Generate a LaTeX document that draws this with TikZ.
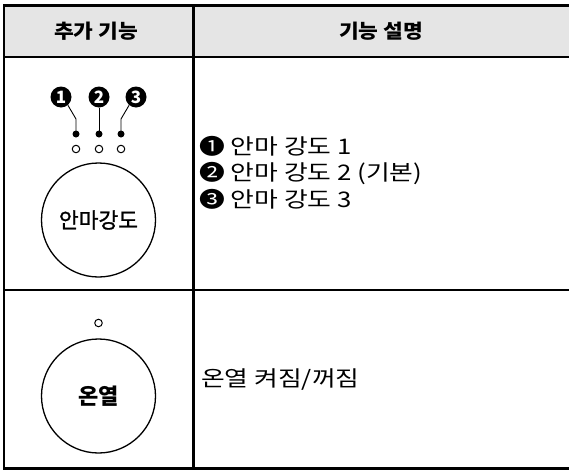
\documentclass[tikz,border=0pt]{standalone}
\usepackage{fontspec}
\setmainfont{Noto Sans CJK KR}
\newfontfamily\widefont[FakeStretch=1.2]{Noto Sans CJK KR}
\newfontfamily\headfont[FakeStretch=1.1]{Noto Sans CJK KR}
\newfontfamily\medfont[FakeBold=1.2]{Noto Sans CJK KR}
\begin{document}
\begin{tikzpicture}[x=1pt,y=-1pt,
  tableline/.style={line width=2.2pt},
  header/.style={font=\headfont\fontsize{19.5}{24}\selectfont\bfseries},
  bodytext/.style={font=\widefont\fontsize{21.5}{26.5}\selectfont, anchor=west, align=left, inner sep=0pt},
  knob/.style={circle, draw, line width=1.3pt, minimum size=114pt, inner sep=0pt},
  numdot/.style={circle, fill=black, minimum size=21pt, inner sep=0pt, text=white, font=\fontsize{17}{17}\selectfont\bfseries},
  leddot/.style={circle, fill=black, minimum size=7pt, inner sep=0pt},
  ledring/.style={circle, draw, line width=1pt, minimum size=7.5pt, inner sep=0pt},
  wire/.style={line width=0.9pt}]
\useasboundingbox (0,0) rectangle (569,471);
% header background
\fill[gray!20] (4,5.5) rectangle (570,57);
% table lines
\draw[tableline] (4,5.5) rectangle (570,468.5);
\draw[tableline] (4,57) -- (570,57);
\draw[tableline] (4,290) -- (570,290);
\draw[tableline] (193.5,5.5) -- (193.5,468.5);
% header texts
\node[header] (h1) at (96,31) {추가 기능};
\node[header] (h2) at (381,31) {기능 설명};
% row 1 left
\node[knob, font=\medfont\fontsize{21.5}{22}\selectfont] (k1) at (98.5,220) {안마강도};
\node[numdot] (n1) at (61,97) {1};
\node[numdot] (n2) at (99,97) {2};
\node[numdot] (n3) at (136,97) {3};
\node[leddot] (d1) at (76,134) {};
\node[leddot] (d2) at (99,134) {};
\node[leddot] (d3) at (121,134) {};
\node[ledring] (r1) at (76,149) {};
\node[ledring] (r2) at (99,149) {};
\node[ledring] (r3) at (121,149) {};
\coordinate (b1) at (76,119);
\coordinate (b3) at (121,119);
\draw[wire] (n1.-50) -- (b1) -- (d1.center);
\draw[wire] (n2.south) -- (d2.center);
\draw[wire] (n3.-130) -- (b3) -- (d3.center);
% row 1 right
\node[bodytext] (t1) at (199,172.5) {❶ 안마 강도 1\\❷ 안마 강도 2 (기본)\\❸ 안마 강도 3};
% row 2 left
\node[ledring] (r4) at (98.5,323) {};
\node[knob, font=\fontsize{22}{22}\selectfont\bfseries] (k2) at (98.5,396) {온열};
% row 2 right
\node[bodytext] (t2) at (201,380) {온열 켜짐/꺼짐};
\end{tikzpicture}
\end{document}
